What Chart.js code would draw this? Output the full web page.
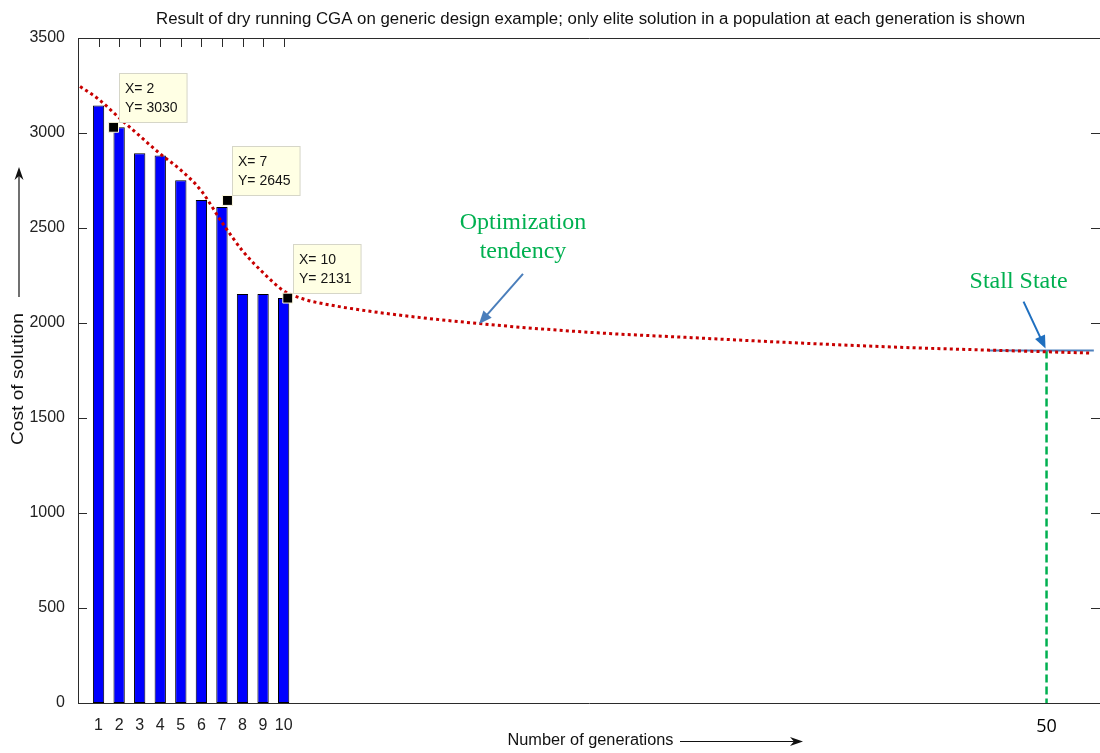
<!DOCTYPE html>
<html>
<head>
<meta charset="utf-8">
<title>Result of dry running CGA</title>
<script src="https://cdn.jsdelivr.net/npm/chart.js@4.4.0/dist/chart.umd.min.js"></script>
<style>
html,body{margin:0;padding:0;background:#fff;overflow:hidden}
canvas{display:block}
</style>
</head>
<body>
<canvas id="myChart" width="1100" height="753"></canvas>
<script>
// elite solution cost for each generation (bars)
const generations = [1, 2, 3, 4, 5, 6, 7, 8, 9, 10];
const eliteCost = [3145, 3030, 2893, 2882, 2751, 2648, 2610, 2152, 2152, 2131];

// red dotted "optimization tendency" curve
const trendX = [0.1, 1, 2, 3, 4, 5, 6, 7, 8, 9, 10, 11, 12, 15, 20, 25, 30, 35, 40, 45, 49.2];
const trendY = [3245, 3178, 3080, 2985, 2890, 2805, 2695, 2530, 2380, 2265, 2170, 2125, 2100, 2050, 1992, 1950, 1922, 1895, 1872, 1855, 1842];

// data tips (label values + where the black marker sits)
const tipX = [2, 7, 10];
const tipY = [3030, 2645, 2131];
const tipMarkerX = [1.73, 7.27, 10.2];

// stall state
const stallX = 47.1;
const stallY = 1855;
const stallFrom = 44.3;
const stallTo = 49.4;
const stallLabel = '50';

const yTicks = [0, 500, 1000, 1500, 2000, 2500, 3000, 3500];
const xMin = 0, xMax = 49.7;   // right edge of the axes is cropped in the picture

const titleText = 'Result of dry running CGA on generic design example; only elite solution in a population at each generation is shown';
const xTitle = 'Number of generations';
const yTitle = 'Cost of solution';

const axisColor = '#2b2b2b';
const sans = '"Liberation Sans", Arial, sans-serif';
const serif = '"Liberation Serif", "Times New Roman", serif';

function fitText(ctx, text, x, y, w, rot) {
  const m = ctx.measureText(text).width;
  ctx.save();
  ctx.translate(x, y);
  if (rot) ctx.rotate(rot);
  ctx.scale(w / m, 1);
  ctx.textAlign = 'center';
  ctx.textBaseline = 'middle';
  ctx.fillText(text, 0, 0);
  ctx.restore();
}

function drawArrow(ctx, x1, y1, x2, y2, color, lw, headLen, headW, notch) {
  const ang = Math.atan2(y2 - y1, x2 - x1);
  ctx.save();
  ctx.strokeStyle = color;
  ctx.fillStyle = color;
  ctx.lineWidth = lw;
  ctx.beginPath();
  ctx.moveTo(x1, y1);
  ctx.lineTo(x2 - Math.cos(ang) * headLen * 0.7, y2 - Math.sin(ang) * headLen * 0.7);
  ctx.stroke();
  ctx.translate(x2, y2);
  ctx.rotate(ang);
  ctx.beginPath();
  ctx.moveTo(0, 0);
  ctx.lineTo(-headLen, -headW);
  ctx.lineTo(-headLen * (notch || 1), 0);
  ctx.lineTo(-headLen, headW);
  ctx.closePath();
  ctx.fill();
  ctx.restore();
}

// matlab style box: border + inward ticks, drawn under the data
const framePlugin = {
  id: 'frame',
  beforeDatasetsDraw(chart) {
    const ctx = chart.ctx;
    const a = chart.chartArea;
    const xs = chart.scales.x, ys = chart.scales.y;
    ctx.save();
    ctx.strokeStyle = axisColor;
    ctx.lineWidth = 1;
    ctx.beginPath();
    ctx.rect(Math.round(a.left) + 0.5, Math.round(a.top) + 0.5, Math.round(a.right - a.left), Math.round(a.bottom - a.top));
    ctx.stroke();
    ctx.beginPath();
    yTicks.forEach(v => {
      const y = Math.round(ys.getPixelForValue(v)) + 0.5;
      ctx.moveTo(a.left, y); ctx.lineTo(a.left + 9, y);
      ctx.moveTo(a.right, y); ctx.lineTo(a.right - 9, y);
    });
    generations.forEach(v => {
      const x = Math.round(xs.getPixelForValue(v)) + 0.5;
      ctx.moveTo(x, a.top); ctx.lineTo(x, a.top + 9);
      ctx.moveTo(x, a.bottom); ctx.lineTo(x, a.bottom - 9);
    });
    ctx.stroke();
    ctx.restore();
  },
  afterDraw(chart) {
    const ctx = chart.ctx;
    const a = chart.chartArea;
    const xs = chart.scales.x, ys = chart.scales.y;
    const cx = (a.left + a.right) / 2;
    ctx.save();
    ctx.fillStyle = '#111';
    ctx.font = '16px ' + sans;
    fitText(ctx, titleText, cx + 1.5, 19.5, 869);
    fitText(ctx, xTitle, cx + 1.5, 741, 166);
    ctx.restore();
    drawArrow(ctx, 680, 741.5, 803, 741.5, '#111', 1.2, 13, 4.5, 0.7);
    ctx.save();
    ctx.fillStyle = '#111';
    ctx.font = '16px ' + sans;
    fitText(ctx, yTitle, 19, 379, 132, -Math.PI / 2);
    ctx.restore();
    drawArrow(ctx, 19, 297, 19, 167, '#111', 1.2, 13, 4.5, 0.7);

    // data tip boxes
    ctx.save();
    ctx.font = '14px ' + sans;
    tipX.forEach((v, i) => {
      const mx = xs.getPixelForValue(tipMarkerX[i]);
      const my = ys.getPixelForValue(tipY[i]);
      const l1 = 'X= ' + v, l2 = 'Y= ' + tipY[i];
      const w = Math.max(ctx.measureText(l1).width, ctx.measureText(l2).width) + 15;
      const h = 49;
      const bx = Math.round(mx + 5) + 0.5, by = Math.round(my - 5 - h) + 0.5;
      ctx.fillStyle = '#ffffe4';
      ctx.strokeStyle = '#d6d6c8';
      ctx.lineWidth = 1;
      ctx.fillRect(bx, by, w, h);
      ctx.strokeRect(bx, by, w, h);
      ctx.fillStyle = '#141414';
      ctx.textAlign = 'left';
      ctx.textBaseline = 'middle';
      ctx.fillText(l1, bx + 5.5, by + 15.5);
      ctx.fillText(l2, bx + 5.5, by + 34.5);
    });
    ctx.restore();

    // annotations
    const green = '#00b050', blue = '#4a7ebb';
    const tipPx = xs.getPixelForValue(19.5), tipPy = ys.getPixelForValue(1995);
    ctx.save();
    ctx.fillStyle = green;
    ctx.font = '24px ' + serif;
    ctx.textAlign = 'center';
    ctx.textBaseline = 'middle';
    ctx.fillText('Optimization', tipPx + 44, tipPy - 101);
    ctx.fillText('tendency', tipPx + 44, tipPy - 72);
    const sx = xs.getPixelForValue(stallX), sy = ys.getPixelForValue(stallY);
    ctx.fillText('Stall State', sx - 28, sy - 69);
    ctx.restore();
    drawArrow(ctx, tipPx + 44, tipPy - 50, tipPx, tipPy, blue, 2, 13, 5.5, 1);
    drawArrow(ctx, sx - 23, sy - 49, sx - 1, sy - 2, '#1f6fbf', 2, 13, 5.5, 1);
  }
};

const ctx = document.getElementById('myChart').getContext('2d');

new Chart(ctx, {
  type: 'bar',
  data: {
    datasets: [
      {
        type: 'line',
        label: 'data tips',
        data: tipMarkerX.map((x, i) => ({ x: x, y: tipY[i] })),
        showLine: false,
        pointStyle: 'rect',
        pointRadius: 7,
        backgroundColor: '#000',
        borderColor: '#fffbe0',
        borderWidth: 1,
        order: 0
      },
      {
        type: 'line',
        label: 'optimization tendency',
        data: trendX.map((x, i) => ({ x: x, y: trendY[i] })),
        borderColor: '#c80000',
        borderWidth: 3,
        borderDash: [3, 3.2],
        borderCapStyle: 'butt',
        cubicInterpolationMode: 'monotone',
        pointRadius: 0,
        fill: false,
        order: 1
      },
      {
        type: 'line',
        label: 'stall',
        data: [{ x: stallFrom, y: stallY }, { x: stallTo, y: stallY }],
        borderColor: '#4f81bd',
        borderWidth: 2,
        pointRadius: 0,
        order: 2
      },
      {
        type: 'line',
        label: 'stall drop',
        data: [{ x: stallX, y: stallY }, { x: stallX, y: 0 }],
        borderColor: '#00b050',
        borderWidth: 2.5,
        borderDash: [8, 4],
        pointRadius: 0,
        order: 2
      },
      {
        label: 'elite cost',
        data: generations.map((g, i) => ({ x: g, y: eliteCost[i] })),
        backgroundColor: '#0000ff',
        borderColor: '#000',
        borderWidth: 1,
        borderSkipped: false,
        categoryPercentage: 1,
        barPercentage: 0.55,
        order: 3
      }
    ]
  },
  options: {
    responsive: false,
    devicePixelRatio: 1,
    animation: false,
    layout: { autoPadding: false, padding: { top: 38, right: 0, left: 0, bottom: 0 } },
    plugins: {
      legend: { display: false },
      tooltip: { enabled: false },
      title: { display: false }
    },
    scales: {
      x: {
        type: 'linear',
        offset: false,
        min: xMin,
        max: xMax,
        grid: { display: false, offset: false },
        border: { display: false },
        afterBuildTicks(scale) {
          scale.ticks = generations.map(v => ({ value: v })).concat([{ value: stallX }]);
        },
        afterFit(scale) {
          scale.height = 50;
          scale.paddingLeft = 0;
          scale.paddingRight = 0;
        },
        ticks: {
          autoSkip: false,
          maxRotation: 0,
          padding: 5,
          color: ctx => ctx.tick && ctx.tick.value === stallX ? '#000' : '#222',
          font: ctx => ctx.tick && ctx.tick.value === stallX
            ? { family: '"Open Sans", Carlito, sans-serif', size: 18 }
            : { family: sans, size: 16 },
          callback: v => v === stallX ? stallLabel : String(v)
        }
      },
      y: {
        min: 0,
        max: 3500,
        grid: { display: false },
        border: { display: false },
        afterBuildTicks(scale) {
          scale.ticks = yTicks.map(v => ({ value: v }));
        },
        afterFit(scale) {
          scale.width = 78;
          scale.paddingTop = 0;
          scale.paddingBottom = 0;
        },
        ticks: {
          padding: 5,
          color: '#222',
          font: { family: sans, size: 16 },
          callback: v => String(v)
        }
      }
    }
  },
  plugins: [framePlugin]
});
</script>
</body>
</html>
